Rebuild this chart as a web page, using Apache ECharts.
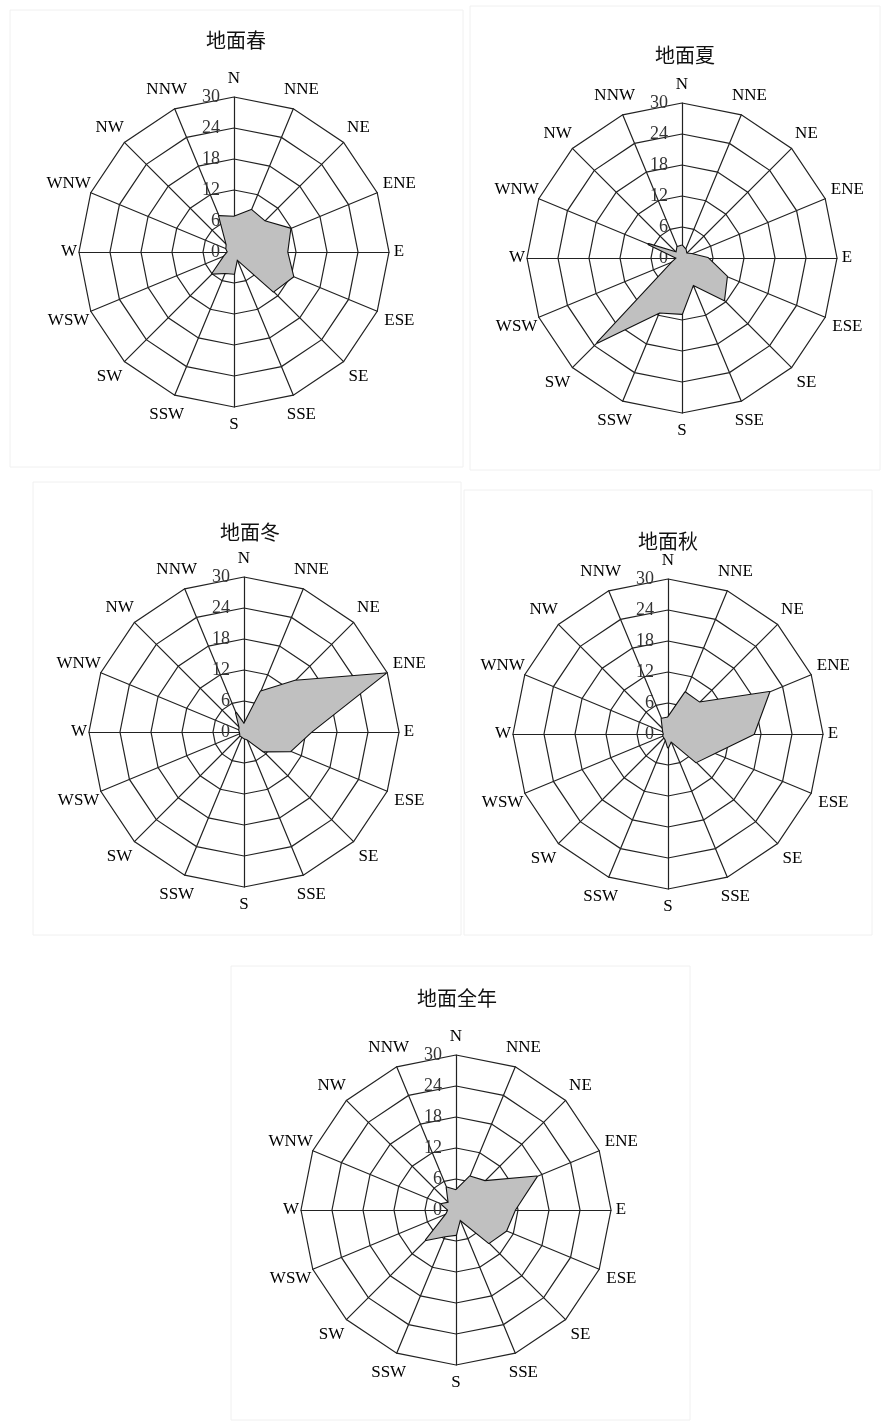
<!DOCTYPE html>
<html><head><meta charset="utf-8">
<script src="https://cdn.jsdelivr.net/npm/echarts@6.0.0/dist/echarts.min.js"></script>
<style>html,body{margin:0;padding:0;background:#fff}#c{width:888px;height:1423px}</style>
</head><body><div id="c"></div>
<script>
// Directions listed clockwise from north
const directions = ['N','NNE','NE','ENE','E','ESE','SE','SSE','S','SSW','SW','WSW','W','WNW','NW','NNW'];
const tickLabels = [0, 6, 12, 18, 24, 30];
const titles = ['地面春', '地面夏', '地面冬', '地面秋', '地面全年'];

const spring = [6.8, 8.8, 8.4, 11.8, 10.3, 12.4, 10.8, 1.5, 4.2, 4.4, 5.9, 2.0, 1.2, 1.6, 2.0, 7.5];
const summer = [2.4, 1.8, 1.2, 2.0, 5.0, 9.4, 11.5, 5.6, 10.8, 11.4, 23.1, 2.0, 1.0, 7.0, 1.5, 2.3];
const winter = [1.5, 8.5, 14.0, 29.6, 13.0, 9.7, 5.3, 1.5, 1.2, 1.0, 1.0, 0.8, 0.8, 1.0, 1.2, 4.0];
const autumn = [3.2, 8.7, 8.6, 21.2, 16.6, 9.7, 7.7, 1.5, 2.6, 1.2, 1.0, 1.0, 0.8, 1.0, 1.4, 3.2];
const annual = [3.8, 7.0, 7.9, 16.9, 11.4, 10.5, 9.0, 2.0, 4.8, 5.5, 8.2, 2.0, 1.5, 3.0, 2.0, 4.7];

const panelData = [spring, summer, winter, autumn, annual];
// layout: radar centres, title positions, panel frames
const centers = [[234, 252], [682, 258], [244, 732], [668, 734], [456, 1210]];
const titlePos = [[231, 25], [680, 40], [245, 517], [663, 526], [452, 983]];
const frames = [[10, 10, 453, 457], [470, 6, 410, 464], [33, 482, 428, 453], [464, 490, 408, 445], [231, 966, 459, 454]];

// ECharts radar lays indicators counter-clockwise, so reorder to get clockwise compass
const order = [0].concat(directions.map((d, i) => i).slice(1).reverse());

const maxVal = tickLabels[tickLabels.length - 1];
const serif = 'Liberation Serif';

function gapFor(k) {
  if (k === 4 || k === 12) return 10;
  if (k === 0 || k === 8) return 18;
  if (k === 3 || k === 5 || k === 11 || k === 13) return 24;
  return 21;
}

const radars = centers.map(c => ({
  center: c,
  radius: 155,
  startAngle: 90,
  shape: 'polygon',
  splitNumber: tickLabels.length - 1,
  indicator: order.map((k, j) => {
    const ind = { name: directions[k], max: maxVal, min: 0, nameGap: gapFor(k) };
    if (j === 0) {
      ind.axisLabel = { show: true, fontFamily: serif, fontSize: 18, color: '#333', margin: 14 };
    }
    return ind;
  }),
  nameGap: 20,
  axisName: { color: '#000', fontFamily: serif, fontSize: 17, align: 'center', verticalAlign: 'middle' },
  axisLine: { lineStyle: { color: '#222', width: 1.2 } },
  splitLine: { lineStyle: { color: '#222', width: 1.2 } },
  splitArea: { show: false },
  axisLabel: { show: false },
  axisTick: { show: false }
}));

const series = panelData.map((arr, i) => ({
  type: 'radar',
  radarIndex: i,
  symbol: 'none',
  silent: true,
  lineStyle: { color: '#111', width: 2.2 },
  areaStyle: { color: '#c0c0c0', opacity: 1 },
  data: [{ value: order.map(k => arr[k]) }]
}));

const title = titles.map((t, i) => ({
  text: t,
  left: titlePos[i][0],
  top: titlePos[i][1],
  textAlign: 'center',
  textStyle: { fontFamily: 'Noto Sans CJK SC', fontSize: 20, fontWeight: 'normal', color: '#111' }
}));

const graphic = frames.map(f => ({
  type: 'rect',
  shape: { x: f[0], y: f[1], width: f[2], height: f[3] },
  style: { fill: 'none', stroke: '#f0f0f0', lineWidth: 1 },
  z: -1
}));

const chart = echarts.init(document.getElementById('c'), null, { renderer: 'canvas' });
chart.setOption({
  backgroundColor: '#fff',
  animation: false,
  title: title,
  radar: radars,
  series: series,
  graphic: graphic
});
</script>
</body></html>
